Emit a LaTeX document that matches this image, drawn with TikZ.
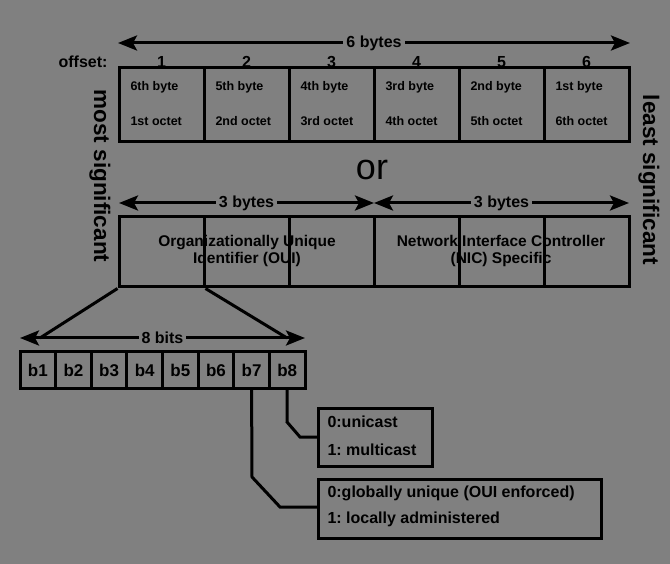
\documentclass[tikz,border=0pt]{standalone}
\usepackage{fontspec}
\setmainfont{Liberation Sans}
\usetikzlibrary{arrows.meta}
\definecolor{bg}{HTML}{808080}
\frenchspacing
\begin{document}
\begin{tikzpicture}[x=1pt,y=-1pt,
  line width=3pt,
  cellbox/.style={draw=black, line width=3pt, inner sep=0pt, minimum width=85pt},
  bitbox/.style={draw=black, line width=3pt, inner sep=0pt, minimum width=35.625pt, minimum height=36pt,
     font=\bfseries\fontsize{17}{19}\selectfont},
  infobox/.style={draw=black, line width=3pt, inner sep=0pt, anchor=north west},
  celltxt/.style={anchor=west, inner sep=0pt, font=\bfseries\fontsize{12.5}{14}\selectfont},
  infotxt/.style={anchor=west, inner sep=0pt, font=\bfseries\fontsize{16}{18}\selectfont},
  numtxt/.style={inner sep=0pt, font=\bfseries\fontsize{16}{18}\selectfont},
  dimlbl/.style={fill=bg, inner sep=3pt, font=\bfseries\fontsize{16}{18}\selectfont},
  sidetxt/.style={rotate=-90, inner sep=0pt, font=\bfseries\fontsize{22.5}{24}\selectfont},
  twoway/.style={line width=3pt, {Stealth[length=19pt,width=15pt,inset=4pt]}-{Stealth[length=19pt,width=15pt,inset=4pt]}},
  leader/.style={line width=3pt}
]
\fill[bg] (0,0) rectangle (670,564);
\useasboundingbox (0,0) rectangle (670,564);

% top 6 bytes arrow
\coordinate (t6l) at (118,43);
\coordinate (t6r) at (630,43);
\draw[twoway] (t6l) -- (t6r) node[midway, dimlbl] (l6) {6 bytes};

% offset row
\node[numtxt, anchor=east] (off) at (109,62) {offset:};
\foreach \i in {1,...,6} {
  \node[numtxt] (n\i) at ({161.5+85*(\i-1)},62) {\i};
}

% top cells
\foreach \i in {1,...,6} {
  \node[cellbox, minimum height=74pt] (c\i) at ({161.5+85*(\i-1)},105) {};
}
\node[celltxt] (c1a) at (129,87) {6th byte};
\node[celltxt] (c1b) at (129,121) {1st octet};
\node[celltxt] (c2a) at (214,87) {5th byte};
\node[celltxt] (c2b) at (214,121) {2nd octet};
\node[celltxt] (c3a) at (299,87) {4th byte};
\node[celltxt] (c3b) at (299,121) {3rd octet};
\node[celltxt] (c4a) at (384,87) {3rd byte};
\node[celltxt] (c4b) at (384,121) {4th octet};
\node[celltxt] (c5a) at (469,87) {2nd byte};
\node[celltxt] (c5b) at (469,121) {5th octet};
\node[celltxt] (c6a) at (554,87) {1st byte};
\node[celltxt] (c6b) at (554,121) {6th octet};

% or
\node[inner sep=0pt, font=\fontsize{36}{40}\selectfont] (or) at (372,170) {or};

% side labels
\node[sidetxt] (ms) at (100,176) {most significant};
\node[sidetxt] (ls) at (649,180) {least significant};

% 3 bytes arrows
\coordinate (a3l) at (119,203);
\coordinate (a3m) at (374,203);
\coordinate (a3r) at (629,203);
\draw[twoway] (a3l) -- (a3m) node[midway, dimlbl] (l3a) {3 bytes};
\draw[twoway] (a3m) -- (a3r) node[midway, dimlbl] (l3b) {3 bytes};

% second row cells
\foreach \i in {1,...,6} {
  \node[cellbox, minimum height=70pt] (d\i) at ({161.5+85*(\i-1)},252) {};
}
\node[align=center, inner sep=0pt, font=\bfseries\fontsize{15.5}{17}\selectfont] (oui) at (247,251)
  {Organizationally Unique\\Identifier (OUI)};
\node[align=center, inner sep=0pt, font=\bfseries\fontsize{15.5}{17}\selectfont] (nic) at (501,251)
  {Network Interface Controller\\(NIC) Specific};

% bits
\foreach \i in {1,...,8} {
  \node[bitbox] (b\i) at ({20+35.625*(\i-0.5)},370) {b\i};
}
\coordinate (a8l) at (20,338);
\coordinate (a8r) at (305,338);
\draw[twoway] (a8l) -- (a8r) node[pos=0.5, dimlbl] (l8) {8 bits};

% expansion lines
\coordinate (e8l) at (40,338);
\coordinate (e8r) at (287,338);
\draw[leader] (d1.south west) -- (e8l);
\draw[leader] (d1.south east) -- (e8r);

% info boxes
\node[infobox, minimum width=114pt, minimum height=58pt] (uni) at (317,407) {};
\node[infotxt] (u0) at (326,422) {0:unicast};
\node[infotxt] (u1) at (326,450) {1: multicast};
\node[infobox, minimum width=283pt, minimum height=59pt] (glob) at (317,478) {};
\node[infotxt] (g0) at (326,493) {0:globally unique (OUI enforced)};
\node[infotxt] (g1) at (326,519) {1: locally administered};

% bit leaders
\draw[leader] (b8.south) -- (287,422) -- (300,437) -- (uni.west |- 0,437);
\draw[leader] (b7.south) -- (252,477) -- (280,507) -- (glob.west |- 0,507);
\end{tikzpicture}
\end{document}
